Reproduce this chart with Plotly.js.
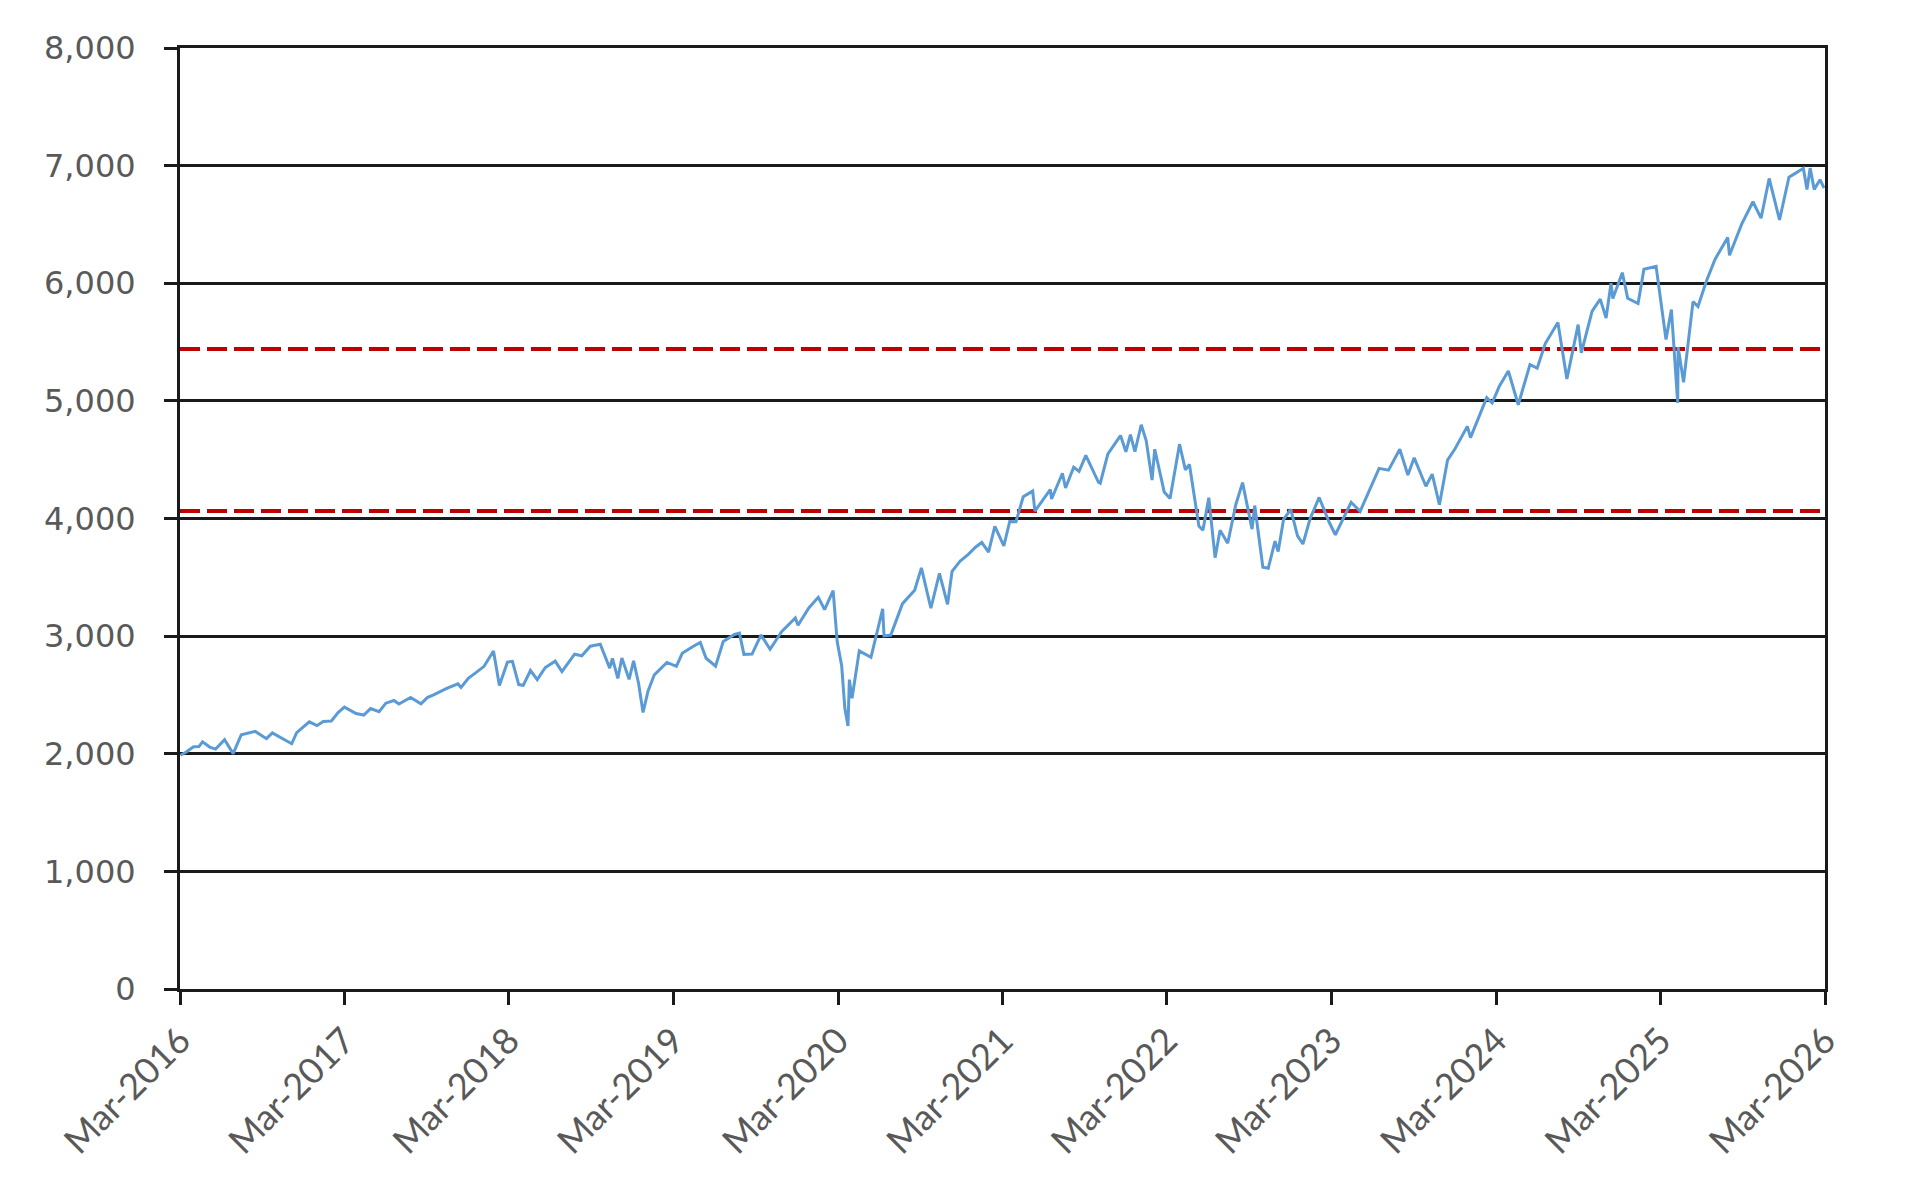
<!DOCTYPE html>
<html>
<head>
<meta charset="utf-8">
<script src="https://cdn.plot.ly/plotly-3.0.1.min.js"></script>
<style>
html,body{margin:0;padding:0;background:#fff;}
#chart{width:1918px;height:1198px;}
</style>
</head>
<body>
<div id="chart"></div>
<script>
// ---- data ----
const dates = [
"2016-03-02","2016-03-15","2016-03-31","2016-04-12","2016-04-20","2016-05-06","2016-05-19","2016-06-08","2016-06-27","2016-07-15",
"2016-08-15","2016-09-09","2016-09-22","2016-10-14","2016-11-04","2016-11-15","2016-12-13","2016-12-30","2017-01-13","2017-01-31",
"2017-02-15","2017-03-01","2017-03-27","2017-04-13","2017-04-28","2017-05-17","2017-06-01","2017-06-19","2017-06-30","2017-07-26",
"2017-08-18","2017-09-01","2017-09-15","2017-10-13","2017-11-08","2017-11-15","2017-12-01","2017-12-18","2018-01-05","2018-01-26",
"2018-02-08","2018-02-26","2018-03-09","2018-03-23","2018-04-02","2018-04-18","2018-05-03","2018-05-21","2018-06-12","2018-06-27",
"2018-07-25","2018-08-10","2018-08-29","2018-09-20","2018-10-11","2018-10-17","2018-10-29","2018-11-07","2018-11-23","2018-12-03",
"2018-12-14","2018-12-24","2019-01-04","2019-01-18","2019-02-15","2019-03-08","2019-03-21","2019-04-12","2019-04-30","2019-05-13",
"2019-06-03","2019-06-20","2019-07-15","2019-07-26","2019-08-05","2019-08-23","2019-09-12","2019-10-02","2019-10-28","2019-11-27",
"2019-12-03","2019-12-27","2020-01-17","2020-01-31","2020-02-19","2020-02-28","2020-03-09","2020-03-16","2020-03-23","2020-03-26",
"2020-04-01","2020-04-17","2020-05-13","2020-06-08","2020-06-11","2020-06-26","2020-07-22","2020-08-18","2020-09-02","2020-09-23",
"2020-10-12","2020-10-30","2020-11-09","2020-11-27","2020-12-15","2020-12-31","2021-01-14","2021-01-29","2021-02-12","2021-03-04",
"2021-03-17","2021-03-31","2021-04-16","2021-05-07","2021-05-12","2021-06-15","2021-06-18","2021-07-12","2021-07-19","2021-08-06",
"2021-08-18","2021-09-02","2021-09-30","2021-10-04","2021-10-21","2021-11-18","2021-11-30","2021-12-10","2021-12-20","2022-01-03",
"2022-01-14","2022-01-27","2022-02-02","2022-02-23","2022-03-08","2022-03-29","2022-04-11","2022-04-20","2022-05-02","2022-05-11",
"2022-05-20","2022-06-02","2022-06-16","2022-06-27","2022-07-14","2022-08-01","2022-08-16","2022-09-06","2022-09-12","2022-09-30",
"2022-10-12","2022-10-27","2022-11-03","2022-11-15","2022-12-01","2022-12-16","2022-12-28","2023-01-13","2023-02-02","2023-02-24",
"2023-03-10","2023-03-24","2023-04-14","2023-05-04","2023-05-19","2023-06-15","2023-07-06","2023-07-31","2023-08-18","2023-09-01",
"2023-09-27","2023-10-11","2023-10-27","2023-11-14","2023-12-01","2023-12-28","2024-01-04","2024-01-24","2024-02-09","2024-02-21",
"2024-03-08","2024-03-28","2024-04-19","2024-05-15","2024-05-31","2024-06-18","2024-07-16","2024-08-05","2024-08-30","2024-09-06",
"2024-09-30","2024-10-18","2024-10-31","2024-11-11","2024-11-15","2024-12-06","2024-12-18","2025-01-10","2025-01-23","2025-02-19",
"2025-03-13","2025-03-25","2025-04-08","2025-04-09","2025-04-21","2025-05-12","2025-05-23","2025-06-11","2025-06-30","2025-07-28",
"2025-08-01","2025-08-28","2025-09-22","2025-10-10","2025-10-28","2025-11-20","2025-12-11","2025-12-24","2026-01-12","2026-01-20",
"2026-01-27","2026-02-05","2026-02-18","2026-02-27"
];
const values = [
1987,2015,2060,2061,2102,2057,2040,2119,2001,2162,
2190,2128,2177,2133,2085,2180,2271,2239,2275,2279,
2350,2396,2342,2329,2384,2357,2430,2453,2423,2478,
2425,2477,2500,2553,2594,2564,2642,2690,2743,2873,
2581,2780,2786,2588,2582,2708,2630,2733,2787,2699,
2846,2833,2914,2931,2728,2810,2641,2814,2633,2790,
2600,2351,2532,2671,2776,2743,2854,2907,2946,2812,
2744,2954,3014,3026,2845,2847,3010,2888,3039,3154,
3093,3240,3330,3226,3386,2954,2747,2386,2237,2630,
2471,2875,2820,3232,3002,3009,3276,3390,3580,3237,
3534,3270,3550,3638,3695,3756,3796,3714,3934,3768,
3975,3973,4185,4233,4063,4246,4166,4385,4259,4437,
4400,4537,4308,4300,4549,4705,4567,4712,4568,4797,
4663,4327,4589,4226,4170,4632,4413,4459,4155,3935,
3901,4177,3667,3900,3790,4119,4305,3909,4110,3586,
3577,3808,3720,3992,4077,3852,3783,3999,4179,3970,
3862,3971,4138,4061,4192,4426,4411,4589,4370,4516,
4274,4377,4117,4496,4595,4783,4688,4868,5027,4982,
5124,5254,4967,5308,5278,5487,5667,5186,5648,5408,
5762,5865,5705,6001,5870,6090,5872,5827,6119,6144,
5522,5777,4982,5457,5158,5844,5802,6022,6205,6389,
6238,6502,6693,6553,6891,6538,6901,6932,6977,6797,
6979,6798,6880,6810
];
const redLevels = [5440, 4063];
const xRange = ["2016-03-01","2026-03-01"];
const xTickVals = ["2016-03-01","2017-03-01","2018-03-01","2019-03-01","2020-03-01","2021-03-01","2022-03-01","2023-03-01","2024-03-01","2025-03-01","2026-03-01"];
const xTickText = ["Mar-2016","Mar-2017","Mar-2018","Mar-2019","Mar-2020","Mar-2021","Mar-2022","Mar-2023","Mar-2024","Mar-2025","Mar-2026"];
const yTickVals = [0,1000,2000,3000,4000,5000,6000,7000,8000];

// ---- traces ----
const traces = redLevels.map(v => ({
  x: xRange, y: [v, v], type: "scatter", mode: "lines",
  line: {color: "#C00000", width: 4, dash: "20px,7px"},
  hoverinfo: "skip", showlegend: false
}));
traces.push({
  x: dates, y: values, type: "scatter", mode: "lines",
  line: {color: "#5B9BD5", width: 3},
  showlegend: false
});

const layout = {
  width: 1918, height: 1198,
  margin: {l: 180, r: 93, t: 48, b: 209},
  paper_bgcolor: "#ffffff", plot_bgcolor: "#ffffff",
  showlegend: false,
  xaxis: {
    type: "date", range: xRange,
    tickmode: "array", tickvals: xTickVals, ticktext: xTickText,
    tickangle: -45,
    ticks: "outside", ticklen: 13, tickwidth: 3, tickcolor: "#1a1a1a",
    showline: true, linecolor: "#1a1a1a", linewidth: 3, mirror: true,
    showgrid: false, zeroline: false,
    tickfont: {family: "Lato, 'Liberation Sans', sans-serif", size: 36, color: "#595959"}
  },
  yaxis: {
    range: [0, 8000], tickmode: "array", tickvals: yTickVals,
    tickformat: ",d",
    ticks: "outside", ticklen: 13, tickwidth: 3, tickcolor: "#1a1a1a",
    showline: true, linecolor: "#1a1a1a", linewidth: 3, mirror: true,
    showgrid: true, gridcolor: "#1a1a1a", gridwidth: 3,
    zeroline: false,
    ticklabelstandoff: 22,
    tickfont: {family: "'DejaVu Sans', Verdana, sans-serif", size: 32, color: "#595959"}
  }
};

Plotly.newPlot("chart", traces, layout, {displayModeBar: false, staticPlot: true});
</script>
</body>
</html>
